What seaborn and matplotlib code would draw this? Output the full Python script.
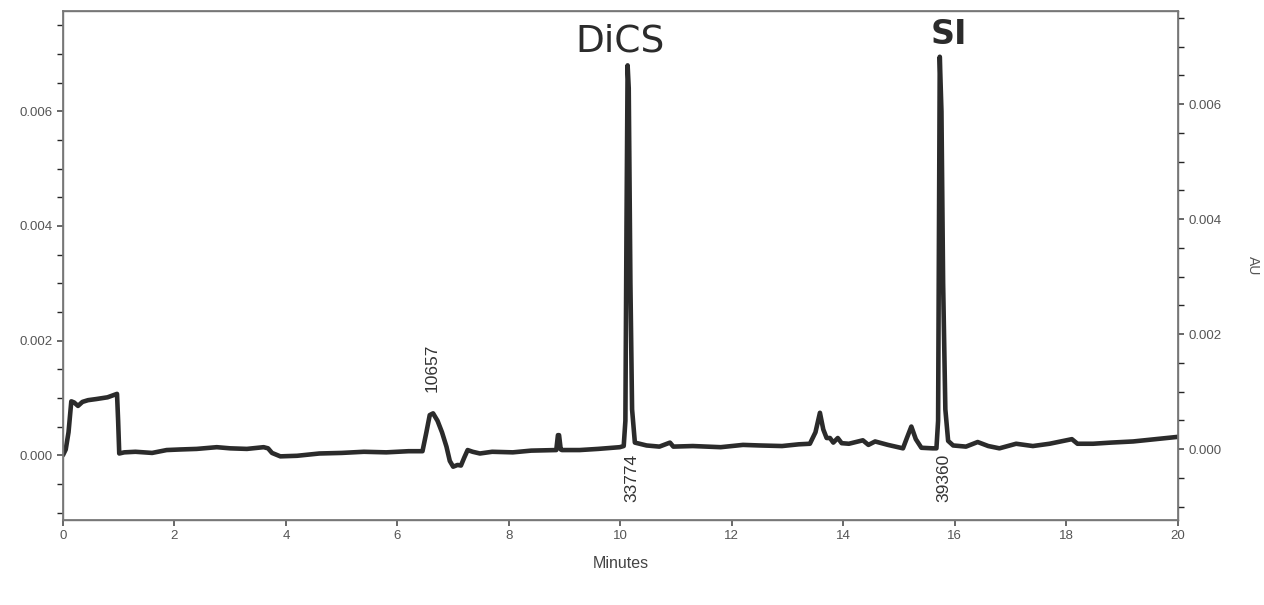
import numpy as np
import pandas as pd
import seaborn as sns
import matplotlib.pyplot as plt
from matplotlib.ticker import MultipleLocator

# retention time (min) and absorbance (AU)
minutes = [0.00, 0.05, 0.10, 0.15, 0.20, 0.27, 0.35, 0.45, 0.60, 0.80, 0.97, 0.99,
           1.01, 1.10, 1.30, 1.60, 1.86, 2.10, 2.40, 2.76, 3.00, 3.30, 3.60, 3.68,
           3.75, 3.90, 4.20, 4.60, 5.00, 5.40, 5.80, 6.20, 6.45, 6.52, 6.58, 6.64,
           6.72, 6.80, 6.88, 6.94, 7.00, 7.08, 7.14, 7.20, 7.26, 7.35, 7.48, 7.70,
           8.07, 8.40, 8.85, 8.88, 8.90, 8.93, 8.95, 9.27, 9.60, 9.99, 10.06, 10.09,
           10.11, 10.13, 10.15, 10.18, 10.21, 10.26, 10.47, 10.70, 10.89, 10.95, 11.30,
           11.80, 12.20, 12.50, 12.90, 13.20, 13.40, 13.50, 13.58, 13.64, 13.70, 13.76,
           13.82, 13.90, 13.97, 14.10, 14.35, 14.45, 14.57, 14.80, 15.07, 15.14, 15.22,
           15.30, 15.40, 15.60, 15.67, 15.70, 15.73, 15.76, 15.79, 15.83, 15.88, 15.97,
           16.20, 16.41, 16.60, 16.80, 17.10, 17.40, 17.70, 18.10, 18.20, 18.48, 18.80,
           19.20, 19.60, 20.00]
au = [0.00000, 0.00010, 0.00040, 0.00094, 0.00092, 0.00086, 0.00093, 0.00096, 0.00098,
      0.00101, 0.00107, 0.00060, 0.00003, 0.00005, 0.00006, 0.00004, 0.00009, 0.00010,
      0.00011, 0.00014, 0.00012, 0.00011, 0.00014, 0.00012, 0.00004, -0.00002, -0.00001,
      0.00003, 0.00004, 0.00006, 0.00005, 0.00007, 0.00007, 0.00040, 0.00070, 0.00073,
      0.00060, 0.00040, 0.00015, -0.00010, -0.00020, -0.00017, -0.00018, -0.00004,
      0.00009, 0.00006, 0.00003, 0.00006, 0.00005, 0.00008, 0.00009, 0.00035, 0.00035,
      0.00010, 0.00009, 0.00009, 0.00011, 0.00014, 0.00016, 0.00060, 0.00400, 0.00680,
      0.00640, 0.00300, 0.00080, 0.00022, 0.00017, 0.00015, 0.00022, 0.00015, 0.00016,
      0.00014, 0.00018, 0.00017, 0.00016, 0.00019, 0.00020, 0.00040, 0.00074, 0.00045,
      0.00030, 0.00030, 0.00022, 0.00030, 0.00021, 0.00020, 0.00026, 0.00018, 0.00024,
      0.00018, 0.00012, 0.00030, 0.00050, 0.00028, 0.00013, 0.00012, 0.00012, 0.00060,
      0.00695, 0.00600, 0.00300, 0.00080, 0.00025, 0.00017, 0.00015, 0.00023, 0.00016,
      0.00012, 0.00020, 0.00016, 0.00020, 0.00028, 0.00020, 0.00020, 0.00022, 0.00024,
      0.00028, 0.00032]

peak_labels = ["10657", "33774", "39360"]
peak_times = [6.62, 10.2, 15.8]
peak_label_y = [0.00110, -0.00082, -0.00082]

sns.set_theme(style="ticks")
plt.rcParams['font.family'] = ['Liberation Sans', 'DejaVu Sans']

df = pd.DataFrame({"Minutes": minutes, "AU": au})

fig = plt.figure(figsize=(12.64, 6.05), dpi=100)
ax = fig.add_axes([0.0498, 0.1405, 0.882, 0.8415])
sns.lineplot(data=df, x="Minutes", y="AU", ax=ax, color="#2b2b2b", linewidth=3.3,
             sort=False, estimator=None)

ax.set_xlim(0, 20)
ax.set_ylim(-0.00113, 0.00775)
ax.xaxis.set_major_locator(MultipleLocator(2))
ax.yaxis.set_major_locator(MultipleLocator(0.002))
ax.yaxis.set_minor_locator(MultipleLocator(0.0005))
ax.yaxis.set_major_formatter(plt.FormatStrFormatter('%.3f'))
ax.set_xlabel("Minutes", fontsize=11.5, color="#444444", labelpad=10)
ax.set_ylabel("")
ax.tick_params(labelsize=9.5, colors="#555555", length=4)
for s in ax.spines.values():
    s.set_color("#777777")
    s.set_linewidth(1)

ax2 = ax.twinx()
ax2.set_ylim(-0.00123, 0.00762)
ax2.yaxis.set_major_locator(MultipleLocator(0.002))
ax2.yaxis.set_minor_locator(MultipleLocator(0.0005))
ax2.yaxis.set_major_formatter(plt.FormatStrFormatter('%.3f'))
ax2.tick_params(labelsize=9.5, colors="#555555", length=4)
ax2.set_ylabel("AU", fontsize=10, color="#555555", rotation=270, labelpad=28)
for s in ax2.spines.values():
    s.set_color("#777777")

for lab, t, yv in zip(peak_labels, peak_times, peak_label_y):
    ax.text(t, yv, lab, rotation=90, ha="center", va="bottom", fontsize=12.5,
            color="#333333")

ax.text(10.0, 0.00690, "DiCS", fontsize=27, color="#2b2b2b", ha="center",
        va="bottom", family=["DejaVu Sans"])
ax.text(15.9, 0.00705, "SI", fontsize=24, color="#2b2b2b", ha="center",
        va="bottom", family=["DejaVu Sans"], fontweight="bold")

fig.savefig("out.png", dpi=100)
